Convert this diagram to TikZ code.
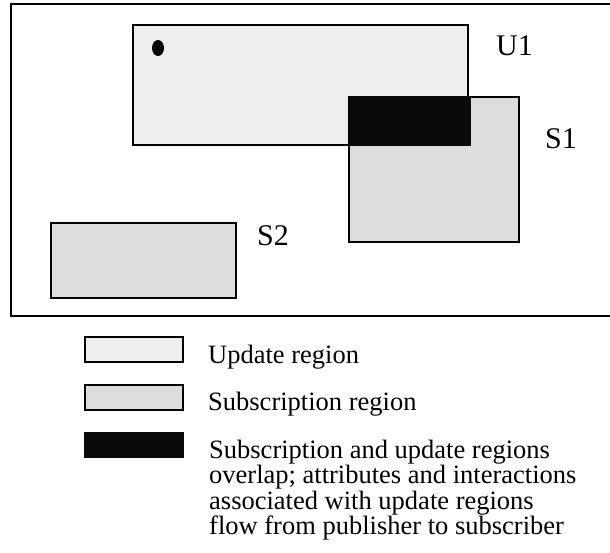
\documentclass[tikz,border=0pt]{standalone}
\usepackage{fontspec}
\setmainfont{Liberation Serif}
\definecolor{updfill}{HTML}{EEEEEE}
\definecolor{subfill}{HTML}{DDDDDD}
\definecolor{ovlfill}{HTML}{0A0A0A}
\begin{document}
\begin{tikzpicture}[x=1pt,y=-1pt,
  region/.style={draw=black,line width=2.2pt},
  updregion/.style={region,fill=updfill},
  subregion/.style={region,fill=subfill},
  overlap/.style={fill=ovlfill},
  keybox/.style={draw=black,line width=2pt},
  tag/.style={anchor=base west,inner sep=0pt,font=\fontsize{30}{32}\selectfont},
  keytext/.style={anchor=base west,inner sep=0pt,font=\fontsize{26.5}{25.5}\selectfont}]
\useasboundingbox (0,0) rectangle (610,552);
% routing space
\draw[line width=2.5pt] (11,4) rectangle (620,316);
% regions
\draw[updregion] (133,25) rectangle (468,145);
\draw[subregion] (349,97) rectangle (519,242);
\fill[overlap] (349,96) rectangle (471,146);
\draw[subregion] (51,223) rectangle (236,298);
\fill[black] (158,48) ellipse [x radius=6,y radius=8];
\node[tag] (u1) at (496,55) {U1};
\node[tag] (s1) at (545,148) {S1};
\node[tag] (s2) at (257,245) {S2};
% key
\draw[keybox,fill=updfill] (85,337) rectangle (183,362);
\draw[keybox,fill=subfill] (85,385) rectangle (183,410);
\fill[ovlfill] (84,432) rectangle (184,458);
\node[keytext] (kupd) at (208,363) {Update region};
\node[keytext] (ksub) at (208,410) {Subscription region};
% the base anchor of a multi-line node sits on its last line
\node[keytext,align=left] (kovl) at (209,534.5)
  {Subscription and update regions\\
   overlap; attributes and interactions\\
   associated with update regions\\
   flow from publisher to subscriber};
\end{tikzpicture}
\end{document}
